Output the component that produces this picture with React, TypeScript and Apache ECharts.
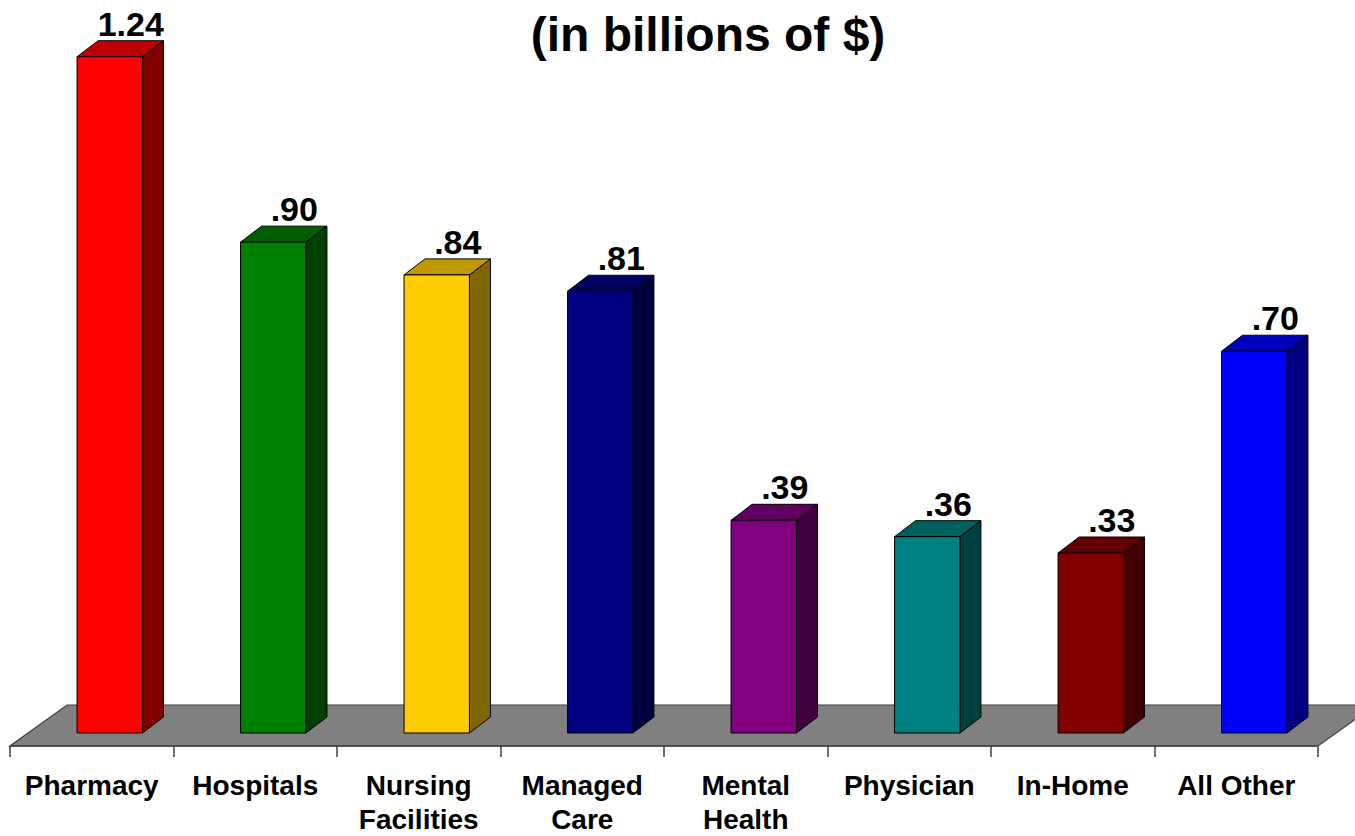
import React, { useEffect, useRef } from "react";
import * as echarts from "echarts";

const categories = [
  "Pharmacy",
  "Hospitals",
  "Nursing\nFacilities",
  "Managed\nCare",
  "Mental\nHealth",
  "Physician",
  "In-Home",
  "All Other",
];
const values = [1.24, 0.9, 0.84, 0.81, 0.39, 0.36, 0.33, 0.7];
const barColors = [
  "#FF0000",
  "#008000",
  "#FFCC00",
  "#000080",
  "#800080",
  "#008080",
  "#800000",
  "#0000FF",
];
const titleText = "(in billions of $)";

function shade(hex: string, f: number): string {
  const n = parseInt(hex.slice(1), 16);
  const r = Math.round(((n >> 16) & 255) * f);
  const g = Math.round(((n >> 8) & 255) * f);
  const b = Math.round((n & 255) * f);
  return "rgb(" + r + "," + g + "," + b + ")";
}

function fmt(v: number): string {
  const s = v.toFixed(2);
  return s.startsWith("0") ? s.slice(1) : s;
}

export default function App() {
  const ref = useRef<HTMLDivElement>(null);
  useEffect(() => {
    if (!ref.current) return;
    const chart = echarts.init(ref.current, undefined, { renderer: "svg" });
    const FONT = "'Liberation Sans', Arial, sans-serif";
    const floorDX = 57;
    const floorDY = 41;
    const shiftX = 18;
    const shiftY = 13;
    const depthX = 21;
    const depthY = 16;

    chart.setOption({
      animation: false,
      backgroundColor: "#ffffff",
      graphic: [
        {
          type: "text",
          x: 708,
          y: 34,
          style: {
            text: titleText,
            fontSize: 48,
            fontWeight: "bold",
            fontFamily: FONT,
            fill: "#000",
            align: "center",
            verticalAlign: "middle",
          },
        },
      ],
      grid: { left: 10, right: 37, top: 37, bottom: 87, containLabel: false },
      xAxis: {
        type: "category",
        data: categories,
        boundaryGap: true,
        axisLine: { show: true, lineStyle: { color: "#404040", width: 1.5 } },
        axisTick: {
          show: true,
          length: 11,
          alignWithLabel: false,
          lineStyle: { color: "#404040", width: 1.5 },
        },
        axisLabel: {
          interval: 0,
          margin: 22,
          fontSize: 28,
          fontWeight: "bold",
          fontFamily: FONT,
          color: "#000",
          lineHeight: 34,
        },
        splitLine: { show: false },
        z: 5,
      },
      yAxis: {
        type: "value",
        min: 0,
        max: 1.3,
        show: false,
      },
      series: [
        {
          type: "custom",
          z: 1,
          data: [[0, 0]],
          renderItem: (params: any, api: any) => {
            const cs = params.coordSys;
            const yb = cs.y + cs.height;
            return {
              type: "polygon",
              shape: {
                points: [
                  [cs.x, yb],
                  [cs.x + cs.width, yb],
                  [cs.x + cs.width + floorDX, yb - floorDY],
                  [cs.x + floorDX, yb - floorDY],
                ],
              },
              style: { fill: "#808080", stroke: "#404040", lineWidth: 1.2 },
            };
          },
        },
        {
          type: "custom",
          z: 2,
          data: values.map((v, i) => [i, v]),
          renderItem: (params: any, api: any) => {
            const idx = api.value(0);
            const v = api.value(1);
            const base = api.coord([idx, 0]);
            const top = api.coord([idx, v]);
            const cw = api.size([1, 0])[0];
            const fw = cw * 0.4;
            const cx = base[0] + shiftX;
            const x0 = cx - fw / 2;
            const x1 = cx + fw / 2;
            const yb = base[1] - shiftY;
            const yt = top[1] - shiftY;
            const col = barColors[idx];
            const stroke = { stroke: "#000", lineWidth: 1 };
            return {
              type: "group",
              children: [
                {
                  type: "polygon",
                  shape: {
                    points: [
                      [x1, yb],
                      [x1, yt],
                      [x1 + depthX, yt - depthY],
                      [x1 + depthX, yb - depthY],
                    ],
                  },
                  style: { fill: shade(col, 0.5), ...stroke },
                },
                {
                  type: "polygon",
                  shape: {
                    points: [
                      [x0, yt],
                      [x1, yt],
                      [x1 + depthX, yt - depthY],
                      [x0 + depthX, yt - depthY],
                    ],
                  },
                  style: { fill: shade(col, 0.75), ...stroke },
                },
                {
                  type: "rect",
                  shape: { x: x0, y: yt, width: fw, height: yb - yt },
                  style: { fill: col, ...stroke },
                },
                {
                  type: "text",
                  x: cx + depthX,
                  y: yt - depthY - 5 - 12,
                  style: {
                    text: fmt(v),
                    fontSize: 34,
                    fontWeight: "bold",
                    fontFamily: FONT,
                    fill: "#000",
                    align: "center",
                    verticalAlign: "middle",
                  },
                },
              ],
            };
          },
        },
      ],
    });
    return () => chart.dispose();
  }, []);
  return (
    <div
      ref={ref}
      style={{ position: "fixed", left: 0, top: 0, width: 1355, height: 836 }}
    />
  );
}
